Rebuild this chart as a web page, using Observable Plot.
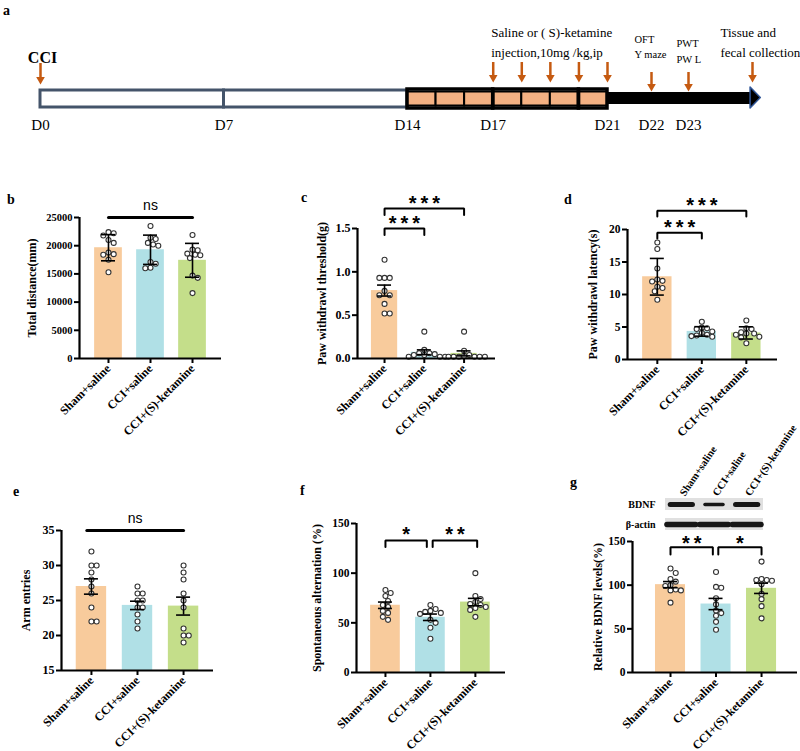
<!DOCTYPE html>
<html><head><meta charset="utf-8">
<script src="https://cdn.jsdelivr.net/npm/d3@7"></script>
<script src="https://cdn.jsdelivr.net/npm/@observablehq/plot@0.6"></script>
<style>
body{margin:0;background:#fff}
#fig{position:relative;width:800px;height:751px;overflow:hidden;font-family:"Liberation Serif",serif}
.letter{position:absolute;font-weight:bold;font-size:14px;line-height:1;font-family:"Liberation Serif",serif}
</style></head><body><div id="fig"></div>
<script>
// ---------- data ----------
const groups = ["Sham+saline", "CCI+saline", "CCI+(S)-ketamine"];
const barColors = ["#f8cb9c", "#b0e0e6", "#c4de8a"];

// b: OFT total distance (mm)
const distanceSham = [22400, 22200, 21800, 21000, 20500, 18800, 18500, 18400, 17500, 15300];
const distanceCCI  = [23500, 21400, 21200, 20500, 20200, 20000, 17100, 16800, 16100, 16000];
const distanceKet  = [21900, 19300, 19200, 18600, 18400, 18300, 17800, 14700, 14300, 11600];
// c: paw withdrawal threshold (g)
const thresholdSham = [1.14, 0.93, 0.93, 0.93, 0.78, 0.73, 0.73, 0.63, 0.52, 0.52];
const thresholdCCI  = [0.31, 0.10, 0.06, 0.06, 0.05, 0.04, 0.04, 0.02, 0.02, 0.02];
const thresholdKet  = [0.31, 0.09, 0.04, 0.03, 0.02, 0.02, 0.02, 0.02, 0.02, 0.02];
// d: paw withdrawal latency (s)
const latencySham = [18.0, 17.0, 14.0, 12.3, 12.1, 12.0, 11.2, 11.0, 10.5, 9.2];
const latencyCCI  = [5.8, 4.9, 4.8, 4.7, 4.3, 4.1, 3.8, 3.7, 3.6, 3.5];
const latencyKet  = [6.0, 4.8, 4.7, 4.2, 4.0, 4.0, 3.8, 3.5, 3.4, 2.5];
// e: arm entries
const armSham = [32, 30, 30, 29, 28, 27, 26, 24, 22, 22];
const armCCI  = [27, 26, 26, 25, 25, 24, 24, 23, 22, 21];
const armKet  = [30, 29, 28, 26, 25, 24, 21, 20, 20, 19];
// f: spontaneous alternation (%)
const altSham = [83, 80, 77, 72, 68, 66, 62, 60, 56, 53];
const altCCI  = [68, 64, 62, 61, 60, 59, 53, 50, 45, 34];
const altKet  = [100, 77, 74, 71, 69, 68, 66, 65, 63, 56];
// g: relative BDNF levels (%)
const bdnfSham = [119, 114, 107, 104, 100, 99, 95, 94, 94, 80];
const bdnfCCI  = [115, 98, 97, 85, 78, 71, 68, 65, 58, 49];
const bdnfKet  = [127, 107, 106, 106, 105, 101, 90, 84, 76, 62];
// western blot band intensities (relative)
const blotRows = ["BDNF", "\u03b2-actin"];
const bdnfBand = [1.0, 0.55, 1.0];
const actinBand = [1.0, 1.0, 1.0];

// timeline (panel a)
const restPhases = [{start: 0, end: 7}, {start: 7, end: 14}];
const injectionDays = [14, 15, 16, 17, 18, 19, 20];
const injectionBlocks = [{start: 14, end: 17}, {start: 17, end: 20}, {start: 20, end: 21}];
const dayLabels = [0, 7, 14, 17, 21, 22, 23];
const eventDays = [0, 17, 18, 19, 20, 21, 22, 23, 25];
const eventKinds = ["surgery", "injection", "injection", "injection", "injection", "injection", "test", "test", "collection"];
const noteDays = [0, 17, 22, 23, 25];
const noteLines = [["CCI"], ["Saline or ( S)-ketamine", "injection,10mg /kg,ip"], ["OFT", "Y maze"], ["PWT", "PW L"], ["Tissue and", "fecal collection"]];

// ---------- layout ----------
const fig = document.getElementById("fig");
function place(el, left, top) {
  el.style.position = "absolute"; el.style.left = left + "px"; el.style.top = top + "px";
  fig.appendChild(el);
}
function letter(t, left, top) {
  const d = document.createElement("div"); d.className = "letter"; d.textContent = t;
  d.style.left = left + "px"; d.style.top = top + "px"; fig.appendChild(d);
}
const baseStyle = {fontFamily: "'Liberation Serif', serif", fontWeight: "bold", fontSize: "11px", color: "black", background: "transparent", overflow: "visible"};

// ---------- panel a ----------
const arrowColor = "#c55a11";
const arrowSpan = {surgery: [63, 82], injection: [62, 80], test: [72, 89], collection: [62, 80]};
const noteStyle = [
  {size: 16, weight: "bold", anchor: "middle", dx: 2, y: [57]},
  {size: 13, weight: "normal", anchor: "start", dx: -2, y: [32.5, 52.5]},
  {size: 10.5, weight: "normal", anchor: "start", dx: -17, y: [39.5, 54.5]},
  {size: 10.5, weight: "normal", anchor: "start", dx: -12, y: [43.5, 59]},
  {size: 13, weight: "normal", anchor: "start", dx: -32, y: [32.5, 52.5]}
];
const noteRows = [];
noteLines.forEach((lines, i) => lines.forEach((t, j) => noteRows.push({day: noteDays[i], text: t, s: noteStyle[i], y: noteStyle[i].y[j]})));
const events = eventDays.map((d, i) => ({day: d, kind: eventKinds[i]}));
const head = [{x: 24.94, y1: 87, y2: 108}, {x: 25.26, y1: 97.5, y2: 97.5}];

const timeline = Plot.plot({
  width: 800, height: 140, margin: 0,
  x: {type: "linear", domain: [0, 14, 21, 22, 23, 25], range: [40, 407, 607, 651, 688, 752], axis: null},
  y: {type: "identity", axis: null},
  style: baseStyle,
  marks: [
    Plot.rect(restPhases, {x1: "start", x2: "end", y1: 90, y2: 107, fill: "white", stroke: "#44546a", strokeWidth: 3}),
    Plot.rect([{start: 21, end: 24.95}], {x1: "start", x2: "end", y1: 92, y2: 104, fill: "black"}),
    Plot.areaY(head, {x: "x", y1: "y1", y2: "y2", fill: "black", stroke: "#2f5597", strokeWidth: 1.5}),
    Plot.rect(injectionDays, {x1: d => d, x2: d => d + 1, y1: 91.5, y2: 105.5, fill: "#f4b183", stroke: "black", strokeWidth: 2}),
    Plot.rect(injectionBlocks, {x1: "start", x2: "end", y1: 89, y2: 108, fill: "none", stroke: "black", strokeWidth: 3.5}),
    Plot.ruleX(events, {x: "day", y1: d => arrowSpan[d.kind][0], y2: d => arrowSpan[d.kind][1] - 5, stroke: arrowColor, strokeWidth: 2.5}),
    Plot.dot(events, {x: "day", y: d => arrowSpan[d.kind][1] - 3, symbol: "triangle", rotate: 180, r: 3.2, fill: arrowColor}),
    Plot.text(dayLabels, {x: d => d, y: 125, text: d => "D" + d, fontSize: 15, fontWeight: "normal"}),
    ...noteStyle.map((s, i) => Plot.text(noteRows.filter(r => r.s === s), {x: "day", y: "y", text: "text", fontSize: s.size, fontWeight: s.weight, textAnchor: s.anchor, dx: s.dx}))
  ]
});
place(timeline, 0, 0);
letter("a", 3, 4);

// ---------- bar panels ----------
function dodge(vals, pxY, r) {
  const n = vals.length, step = 2 * r;
  const order = d3.range(n).sort((a, b) => vals[b] - vals[a]);
  const placed = [], out = new Array(n).fill(0);
  for (const i of order) {
    const y = vals[i] * pxY;
    for (let k = 0; k < 60; k++) {
      const cand = k === 0 ? 0 : (k % 2 ? 1 : -1) * Math.ceil(k / 2) * step / 2;
      if (placed.every(p => Math.hypot(p.x - cand, p.y - y) >= step - 0.01)) { out[i] = cand; placed.push({x: cand, y}); break; }
    }
  }
  return out;
}

function barPanel(cfg) {
  const [xa, xb] = cfg.xDomain, [ya, yb] = cfg.yDomain;
  const mL = 60, mR = 12, mT = 48, mB = 95;
  const fw = cfg.xR - cfg.xL, fh = cfg.yB - cfg.yT;
  const pxX = fw / (xb - xa), pxY = fh / (yb - ya);
  const pts = [], stats = [];
  cfg.series.forEach((vals, g) => {
    const offs = dodge(vals, pxY, 2.6);
    vals.forEach((v, i) => pts.push({g, v, off: offs[i] / pxX}));
    const m = d3.mean(vals), sd = d3.deviation(vals);
    const e = cfg.err === "sd" ? sd : sd / Math.sqrt(vals.length);
    stats.push({g, mean: m, lo: m - e, hi: m + e});
  });
  const cap = 7 / pxX, half = 0.33;
  const path = [];
  cfg.brackets.forEach((b, k) => {
    path.push({k, x: b.x1, y: b.y - b.leg}, {k, x: b.x1, y: b.y}, {k, x: b.x2, y: b.y}, {k, x: b.x2, y: b.y - b.leg});
  });
  const ns = cfg.brackets.filter(b => b.text === "ns");
  const stars = cfg.brackets.filter(b => b.text !== "ns");
  const svg = Plot.plot({
    width: mL + fw + mR, height: mT + fh + mB,
    marginLeft: mL, marginRight: mR, marginTop: mT, marginBottom: mB,
    x: {domain: cfg.xDomain}, y: {domain: cfg.yDomain},
    style: baseStyle,
    marks: [
      Plot.rectY(stats, {x1: d => d.g - half, x2: d => d.g + half, y1: ya, y2: "mean", fill: d => barColors[d.g]}),
      Plot.dot(pts, {x: d => d.g + d.off, y: "v", r: 2.5, fill: "white", stroke: "#333", strokeWidth: 1.1}),
      Plot.ruleX(stats, {x: "g", y1: "lo", y2: "hi", strokeWidth: 1.6}),
      Plot.ruleY(stats, {y: "hi", x1: d => d.g - cap, x2: d => d.g + cap, strokeWidth: 1.6}),
      Plot.ruleY(stats, {y: "lo", x1: d => d.g - cap, x2: d => d.g + cap, strokeWidth: 1.6}),
      Plot.ruleY([ya], {strokeWidth: 2.2}),
      Plot.ruleX([xa], {strokeWidth: 2.2}),
      Plot.axisY(cfg.yTicks, {tickSize: 5, tickPadding: 2, strokeWidth: 2, tickFormat: cfg.fmt, label: null, fontSize: cfg.tickFont}),
      Plot.axisX([0, 1, 2], {tickSize: 5, tickPadding: 3, strokeWidth: 2, tickRotate: -45, tickFormat: i => groups[i], label: null, fontSize: 12}),
      Plot.text([cfg.label], {frameAnchor: "left", textAnchor: "middle", rotate: -90, dx: -(cfg.xL - cfg.labelX), fontSize: 12}),
      Plot.line(path, {x: "x", y: "y", z: "k", strokeWidth: cfg.bracketWidth || 2, strokeLinejoin: "miter"}),
      Plot.text(ns, {x: d => (d.x1 + d.x2) / 2, y: "y", text: "text", dy: cfg.textDy, fontFamily: "'Liberation Sans', sans-serif", fontWeight: "normal", fontSize: 14}),
      Plot.text(stars, {x: d => (d.x1 + d.x2) / 2, y: "y", text: d => d.text.split("").join("\u2009"), dy: cfg.textDy, fontFamily: "'Liberation Sans', sans-serif", fontWeight: "bold", fontSize: 20})
    ]
  });
  place(svg, cfg.xL - mL, cfg.yT - mT);
}

const plain = d => String(d);
barPanel({xL: 79, xR: 221, yT: 217, yB: 358, xDomain: [-0.69, 2.69], yDomain: [0, 25000],
  yTicks: [0, 5000, 10000, 15000, 20000, 25000], fmt: plain, tickFont: 10.5, err: "sd",
  series: [distanceSham, distanceCCI, distanceKet], label: "Total distance(mm)", labelX: 32,
  brackets: [{x1: 0, x2: 2, y: 25000, leg: 0, text: "ns"}], bracketWidth: 3, textDy: -11.5});
barPanel({xL: 357, xR: 495, yT: 228, yB: 358, xDomain: [-0.68, 2.79], yDomain: [0, 1.5],
  yTicks: [0, 0.5, 1, 1.5], fmt: d3.format(".1f"), tickFont: 12, err: "sem",
  series: [thresholdSham, thresholdCCI, thresholdKet], label: "Paw withdrawl threshold(g)", labelX: 322,
  brackets: [{x1: 0, x2: 1, y: 1.5, leg: 0.075, text: "***"}, {x1: 0, x2: 2, y: 1.73, leg: 0.075, text: "***"}], textDy: -5});
barPanel({xL: 627, xR: 777, yT: 229, yB: 359, xDomain: [-0.67, 2.70], yDomain: [0, 20],
  yTicks: [0, 5, 10, 15, 20], fmt: plain, tickFont: 11.5, err: "sd",
  series: [latencySham, latencyCCI, latencyKet], label: "Paw withdrawl latency(s)", labelX: 593,
  brackets: [{x1: 0, x2: 1, y: 19.5, leg: 0.9, text: "***"}, {x1: 0, x2: 2, y: 22.9, leg: 0.9, text: "***"}], textDy: -5});
barPanel({xL: 61, xR: 213, yT: 530, yB: 670, xDomain: [-0.65, 2.65], yDomain: [15, 35],
  yTicks: [15, 20, 25, 30, 35], fmt: plain, tickFont: 12, err: "sem",
  series: [armSham, armCCI, armKet], label: "Arm entries", labelX: 26,
  brackets: [{x1: -0.1, x2: 2, y: 35, leg: 0, text: "ns"}], bracketWidth: 3, textDy: -12});
barPanel({xL: 356, xR: 505, yT: 523, yB: 672, xDomain: [-0.644, 2.67], yDomain: [0, 150],
  yTicks: [0, 50, 100, 150], fmt: plain, tickFont: 11.5, err: "sem",
  series: [altSham, altCCI, altKet], label: "Spontaneous alternation (%)", labelX: 317,
  brackets: [{x1: 0, x2: 0.92, y: 133, leg: 6.7, text: "*"}, {x1: 1.05, x2: 2.04, y: 133, leg: 6.7, text: "**"}], textDy: -6});
barPanel({xL: 632, xR: 797, yT: 541, yB: 672, xDomain: [-0.835, 2.79], yDomain: [0, 150],
  yTicks: [0, 50, 100, 150], fmt: plain, tickFont: 11.5, err: "sem",
  series: [bdnfSham, bdnfCCI, bdnfKet], label: "Relative BDNF levels(%)", labelX: 598,
  brackets: [{x1: 0, x2: 0.93, y: 143.5, leg: 8.4, text: "**"}, {x1: 1.05, x2: 2, y: 143.5, leg: 8.4, text: "*"}], textDy: -4});

// ---------- western blot (panel g inset) ----------
const bands = [];
bdnfBand.forEach((v, i) => bands.push({row: blotRows[0], lane: i, hw: 0.2 + 0.14 * v, sw: 1.5 + 3.5 * v}));
actinBand.forEach((v, i) => bands.push({row: blotRows[1], lane: i, hw: 0.44 * v, sw: 5.5 * v}));
const blot = Plot.plot({
  width: 188, height: 95, marginLeft: 50, marginRight: 40, marginTop: 60, marginBottom: 2,
  x: {domain: [-0.5, 2.5], axis: null},
  y: {domain: blotRows, type: "band", paddingInner: 0.4, paddingOuter: 0},
  style: baseStyle,
  marks: [
    Plot.barX(blotRows, {y: d => d, x1: -0.5, x2: 2.5, fill: "#e0e0e0"}),
    Plot.ruleY(bands, {y: "row", x1: d => d.lane - d.hw, x2: d => d.lane + d.hw, strokeWidth: "sw", stroke: "#161616", strokeLinecap: "round"}),
    Plot.axisY(blotRows, {tickSize: 0, tickPadding: 10, fontSize: 10, label: null}),
    Plot.text([0, 1, 2], {x: d => d, frameAnchor: "top", text: d => groups[d], rotate: -56, textAnchor: "start", dy: -5, dx: -3, fontSize: 10.5})
  ]
});
place(blot, 615, 437);

letter("b", 7, 193);
letter("c", 301, 191);
letter("d", 564, 193);
letter("e", 13, 485);
letter("f", 300, 484);
letter("g", 570, 476);
</script></body></html>
